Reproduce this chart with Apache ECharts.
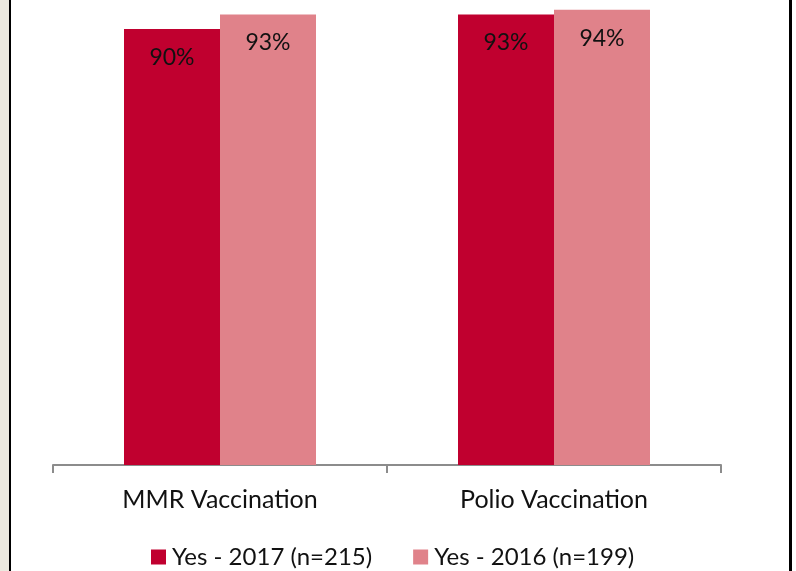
<!DOCTYPE html>
<html>
<head>
<meta charset="utf-8">
<script src="https://cdn.jsdelivr.net/npm/echarts@6/dist/echarts.min.js"></script>
<style>
html,body{margin:0;padding:0;background:#fff;}
#c{width:796px;height:571px;}
</style>
</head>
<body>
<div id="c"></div>
<script>
const categories = ['MMR Vaccination', 'Polio Vaccination'];
const seriesNames = ['Yes - 2017 (n=215)', 'Yes - 2016 (n=199)'];
const values2017 = [90, 93];
const values2016 = [93, 94];

const chart = echarts.init(document.getElementById('c'), null, {renderer: 'canvas'});
const font = 'Lato, "Open Sans", sans-serif';
const labelCfg = {
  show: true, position: 'insideTop', distance: 17,
  formatter: p => p.value + '%',
  color: '#111', fontSize: 23, fontFamily: font
};
chart.setOption({
  animation: false,
  backgroundColor: '#ffffff',
  grid: {left: 53, right: 75, top: 0, bottom: 106},
  xAxis: {
    type: 'category', data: categories,
    axisLine: {show: true, lineStyle: {color: '#8c8c8c', width: 2}},
    axisTick: {show: true, length: 8, lineStyle: {color: '#8c8c8c', width: 2}},
    axisLabel: {color: '#111', fontSize: 25, fontFamily: font, margin: 22}
  },
  yAxis: {
    type: 'value', min: 0, max: 96, show: false,
    splitLine: {show: false}
  },
  legend: {
    left: 151, top: 545, padding: 0, itemWidth: 15, itemHeight: 15, itemGap: 41,
    icon: 'rect',
    textStyle: {color: '#111', fontSize: 24, fontFamily: font, padding: [0,0,0,1]},
    data: seriesNames
  },
  series: [
    {name: seriesNames[0], type: 'bar', data: values2017, barWidth: 96, barGap: '0%',
     itemStyle: {color: '#c0002f'}, label: labelCfg},
    {name: seriesNames[1], type: 'bar', data: values2016, barWidth: 96, barGap: '0%',
     itemStyle: {color: '#e0828a'}, label: labelCfg}
  ],
  graphic: [
    {type: 'rect', shape: {x: 0, y: 0, width: 9, height: 571}, style: {fill: '#ece9df'}, silent: true},
    {type: 'rect', shape: {x: 9, y: 0, width: 2, height: 571}, style: {fill: '#000'}, silent: true},
    {type: 'rect', shape: {x: 789, y: 0, width: 3, height: 571}, style: {fill: '#000'}, silent: true}
  ]
});
</script>
</body>
</html>
